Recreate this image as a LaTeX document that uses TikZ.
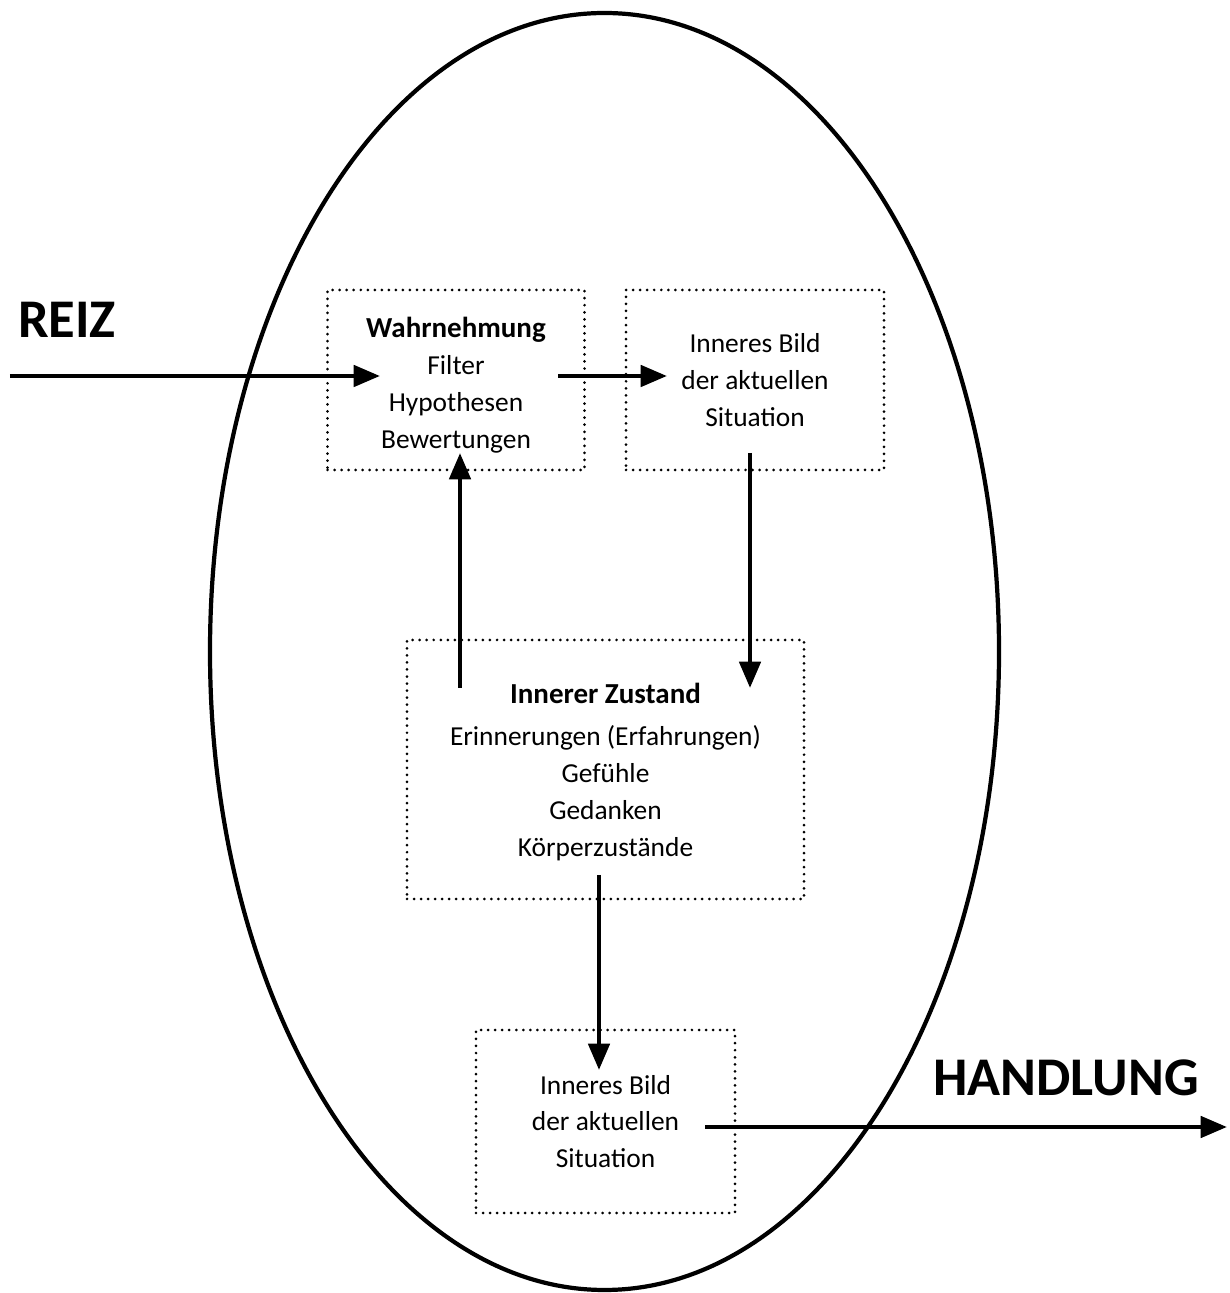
\documentclass[tikz,border=0pt]{standalone}
\usepackage{fontspec}
\setmainfont{Carlito}
\usetikzlibrary{arrows.meta, positioning, calc}
\newcommand{\titelschrift}{\fontsize{16.5}{21}\selectfont\bfseries}

\begin{document}
\begin{tikzpicture}[
  kasten/.style={draw, line width=1.7pt, line cap=round, dash pattern=on 0pt off 4pt, align=center, inner sep=0pt, font=\fontsize{15.6}{21}\selectfont},
  pfeil/.style={line width=2.6pt, -{Triangle[length=15pt, width=12pt]}},
  gross/.style={font=\fontsize{31}{36}\selectfont\bfseries}
]
  \useasboundingbox (0,0) rectangle (24.6,25.86);

  % Mensch
  \draw[line width=2.4pt] (12.09,12.83) ellipse [x radius=7.89, y radius=12.77];

  % Kaesten
  \node[kasten, minimum width=5.14cm, minimum height=3.6cm] (wahrnehmung) at (9.12, 18.26) {};
  \node[kasten, minimum width=5.16cm, minimum height=3.6cm] (bildoben) at (15.1, 18.26) {
    Inneres Bild\\ der aktuellen\\ Situation
  };
  \node[kasten, minimum width=7.94cm, minimum height=5.18cm] (zustand) at (12.11, 10.47) {};
  \node[kasten, minimum width=5.18cm, minimum height=3.66cm] (bildunten) at (12.11, 3.43) {
    Inneres Bild\\ der aktuellen\\ Situation
  };

  % Texte
  \node[align=center, font=\fontsize{15.6}{21}\selectfont] (wahrtext) at (9.12, 18.16) {
    {\titelschrift Wahrnehmung}\\ Filter\\ Hypothesen\\ Bewertungen
  };
  \node[align=center, font=\fontsize{15.6}{21}\selectfont] (zustandtext) at (12.11, 10.42) {
    {\titelschrift Innerer Zustand}\\[3pt] Erinnerungen (Erfahrungen)\\ Gefühle\\ Gedanken\\ Körperzustände
  };

  % Reiz und Handlung
  \node[gross] (reiz) at (1.34, 19.46) {REIZ};
  \node[gross] (handlung) at (21.32, 4.3) {HANDLUNG};

  % Pfeilenden
  \coordinate (reizein) at (0.2, 18.34);
  \coordinate (wahrein) at (7.6, 18.34);
  \coordinate (wahraus) at (11.16, 18.34);
  \coordinate (bildein) at (13.34, 18.34);
  \coordinate (bildaus) at (15.0, 16.8);
  \coordinate (zustandein) at (15.0, 12.1);
  \coordinate (zustandhoch) at (9.2, 12.1);
  \coordinate (wahrunten) at (9.2, 16.8);
  \coordinate (zustandaus) at (11.98, 8.36);
  \coordinate (bildunteneinein) at (11.98, 4.46);
  \coordinate (bildunteneaus) at (14.1, 3.32);
  \coordinate (handlungaus) at (24.54, 3.32);

  % Pfeile
  \draw[pfeil] (reizein) -- (wahrein);
  \draw[pfeil] (wahraus) -- (bildein);
  \draw[pfeil] (bildaus) -- (zustandein);
  \draw[pfeil] (zustandhoch) -- (wahrunten);
  \draw[pfeil] (zustandaus) -- (bildunteneinein);
  \draw[pfeil] (bildunteneaus) -- (handlungaus);
\end{tikzpicture}
\end{document}
